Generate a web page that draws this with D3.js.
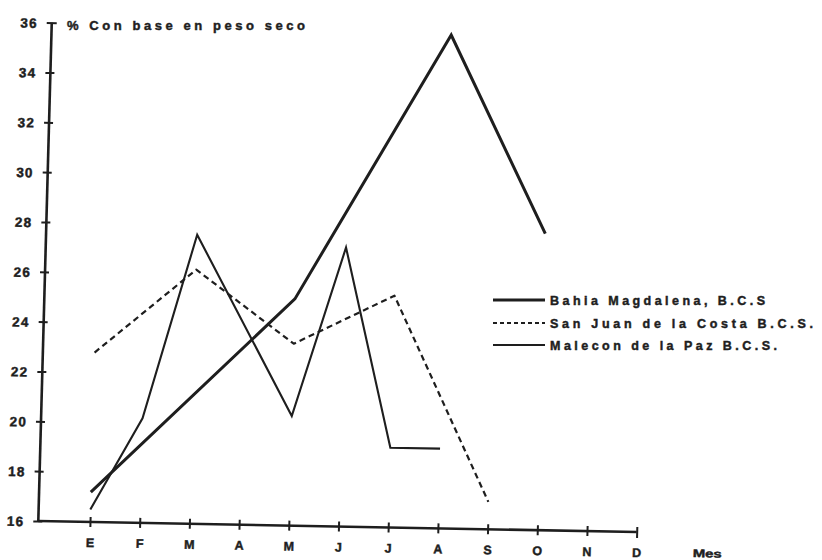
<!DOCTYPE html>
<html><head><meta charset="utf-8">
<script src="https://cdn.jsdelivr.net/npm/d3@7"></script>
<style>
body{margin:0;background:#fff}
text{font-family:"Liberation Sans",Arial,sans-serif;font-weight:bold;fill:#1e1e1e;stroke:#1e1e1e;stroke-width:0.45px}
</style>
</head><body><svg id="chart" width="822" height="560"></svg>
<script>
const months = ["E","F","M","A","M","J","J","A","S","O","N","D"];
const yTicks = [16,18,20,22,24,26,28,30,32,34,36];
const bahia   = [17.2, null, null, null, 25.1, null, null, 35.8, null, 27.9, null, null];
const sanJuan = [22.8, null, 26.2, null, 23.3, null, 25.3, null, 17.1, null, null, null];
const malecon = [16.5, 20.2, 27.6, null, 20.4, 27.2, 19.2, 19.2, null, null, null, null];
const seriesNames = ["Bahia  Magdalena,  B.C.S", "San  Juan  de  la  Costa  B.C.S.", "Malecon  de  la  Paz   B.C.S."];
const yTitle = "%  Con  base  en  peso  seco";
const xTitle = "Mes";

const svg = d3.select("#chart");
svg.append("rect").attr("width",822).attr("height",560).attr("fill","#fff");

// scanned page is slightly skewed: plot group uses a small affine transform
const g = svg.append("g").attr("transform","matrix(1,0.0184,-0.027,1,38.3,521)");

const x = d3.scaleLinear().domain([0,11]).range([51.7,598.4]);
const y = d3.scaleLinear().domain([16,36]).range([0,-498.3]);

const ink = "#1e1e1e";

// axes lines
g.append("line").attr("x1",0).attr("y1",y(16)).attr("x2",0).attr("y2",y(36))
  .attr("stroke",ink).attr("stroke-width",2.6);
g.append("line").attr("x1",0).attr("y1",0).attr("x2",x(11)).attr("y2",0)
  .attr("stroke",ink).attr("stroke-width",2.6);

// y axis
const yAxis = g.append("g").call(d3.axisLeft(y).tickValues(yTicks).tickFormat(d=>d).tickSize(5).tickPadding(10));
yAxis.select(".domain").remove();
yAxis.selectAll(".tick line").attr("x1",-5).attr("x2",d=>d===36?5:4).attr("stroke",ink).attr("stroke-width",2);
yAxis.selectAll(".tick text").attr("x",-14).attr("dy","0.36em")
  .style("font-size","13.5px").style("letter-spacing","1.2px").attr("fill",ink)
  .style("font-family",'"Liberation Sans",Arial,sans-serif').style("font-weight","bold");

// x axis
const xAxis = g.append("g").call(d3.axisBottom(x).tickValues(d3.range(12)).tickFormat(i=>months[i]).tickSize(5));
xAxis.select(".domain").remove();
xAxis.selectAll(".tick line").attr("y1",-5).attr("y2",d=>d===11?6:5).attr("stroke",ink).attr("stroke-width",2);
xAxis.selectAll(".tick text").attr("y",25).attr("dy",null)
  .style("font-size","12.5px").attr("fill",ink)
  .style("font-family",'"Liberation Sans",Arial,sans-serif').style("font-weight","bold");

g.append("text").attr("x",655).attr("y",24).attr("textLength",29).attr("lengthAdjust","spacingAndGlyphs")
  .style("font-size","11px").text(xTitle);

// series
const line = d3.line().x(d=>x(d.i)).y(d=>y(d.v));
function pts(arr){ return arr.map((v,i)=>({i,v})).filter(d=>d.v!==null); }

g.append("path").datum(pts(sanJuan)).attr("d",line).attr("fill","none")
  .attr("stroke",ink).attr("stroke-width",2.2).attr("stroke-dasharray","6,4").attr("stroke-linejoin","round");
g.append("path").datum(pts(malecon)).attr("d",line).attr("fill","none")
  .attr("stroke",ink).attr("stroke-width",2.1).attr("stroke-linejoin","miter");
g.append("path").datum(pts(bahia)).attr("d",line).attr("fill","none")
  .attr("stroke",ink).attr("stroke-width",3).attr("stroke-linejoin","miter");

// y title
svg.append("text").attr("x",67).attr("y",30).attr("textLength",238).attr("lengthAdjust","spacing")
  .style("font-size","13px").text(yTitle);

// legend
const legY = [300, 323, 345];
const legW = [3, 2.2, 2.1];
const legDash = [null, "4,3", null];
const legLen = [215, 263, 227];
seriesNames.forEach((name,k)=>{
  const l = svg.append("line").attr("x1",493).attr("x2",545).attr("y1",legY[k]).attr("y2",legY[k])
    .attr("stroke",ink).attr("stroke-width",legW[k]);
  if (legDash[k]) l.attr("stroke-dasharray",legDash[k]);
  svg.append("text").attr("x",550).attr("y",legY[k]).attr("dy","0.36em")
    .attr("textLength",legLen[k]).attr("lengthAdjust","spacing")
    .style("font-size","12.5px").text(name);
});
</script></body></html>
